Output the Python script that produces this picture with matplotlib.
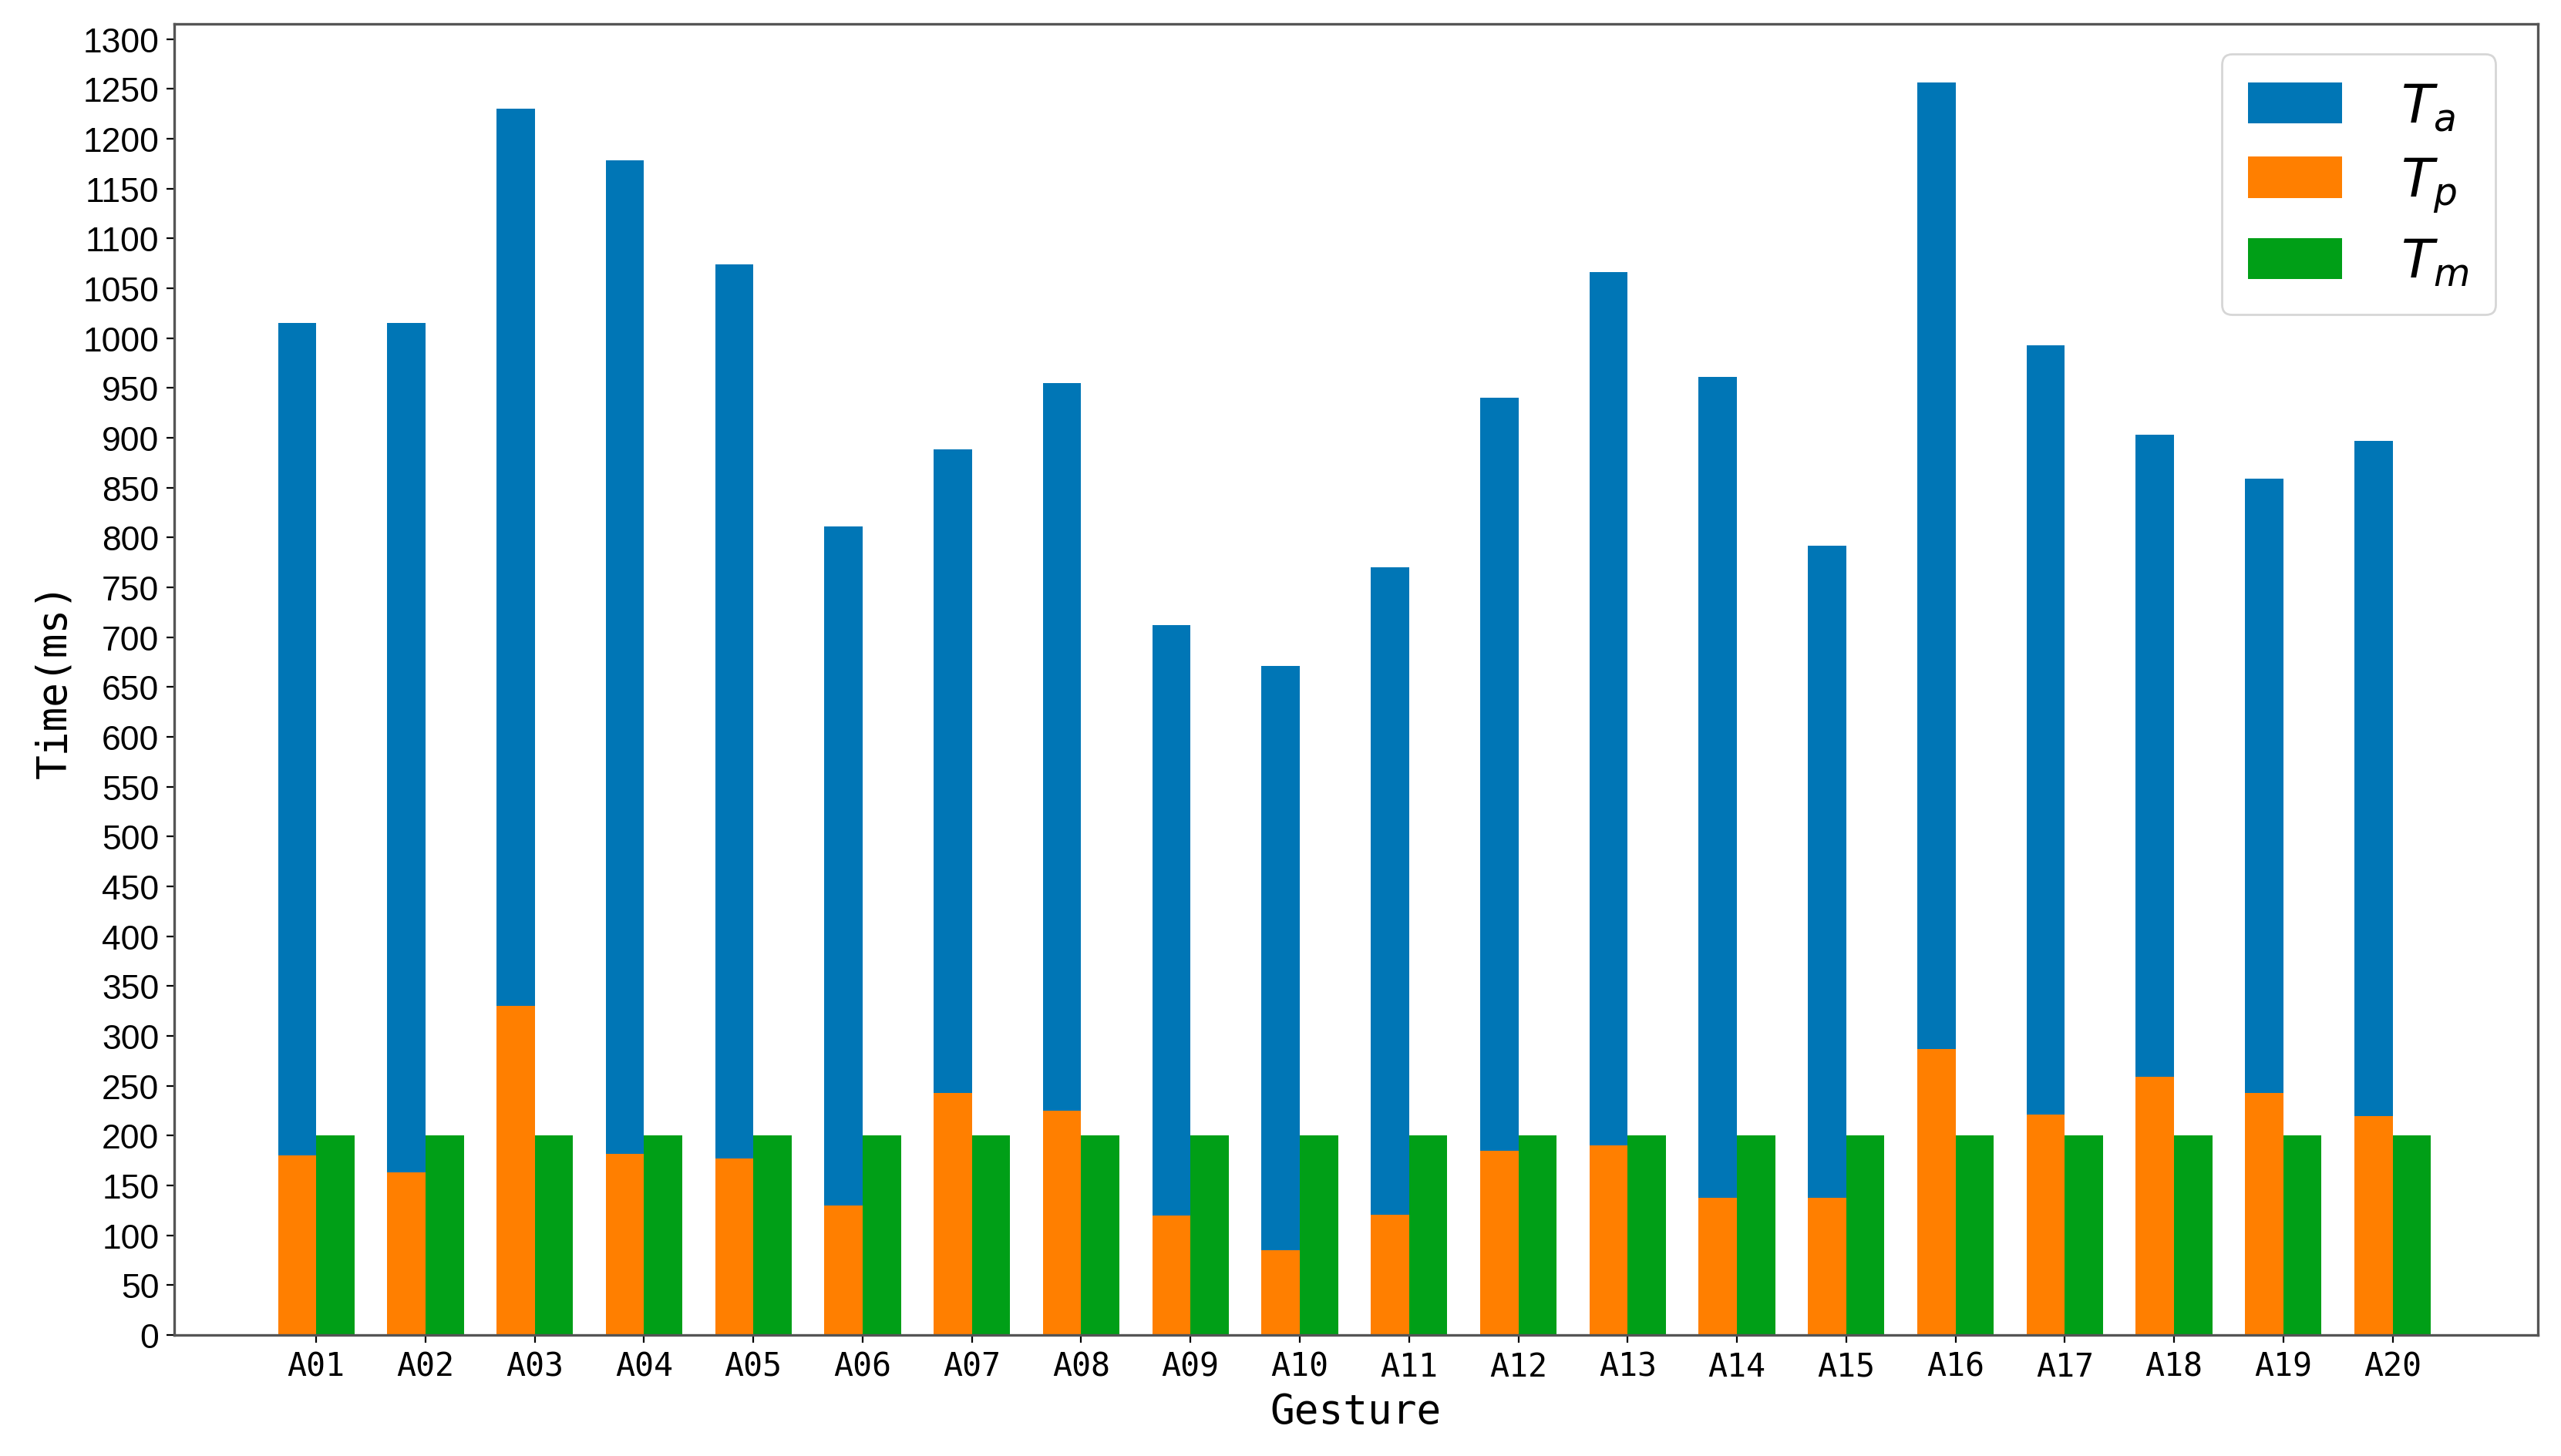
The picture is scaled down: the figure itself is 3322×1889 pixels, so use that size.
import numpy as np
import matplotlib.pyplot as plt

gestures = ['A%02d' % i for i in range(1, 21)]
t_a = [1015, 1015, 1230, 1178, 1074, 811, 888, 955, 712, 671,
       770, 940, 1066, 961, 792, 1256, 993, 903, 859, 897]
t_p = [180, 163, 330, 182, 177, 130, 243, 225, 120, 85,
       121, 185, 190, 138, 138, 287, 221, 259, 243, 220]
t_m = [200] * 20

x = np.arange(len(gestures))
w = 0.35

fig = plt.figure(figsize=(16.61, 9.45), dpi=200)
ax = fig.add_axes([0.068, 0.083, 0.923, 0.9])

ax.bar(x - w / 2, t_a, w, color='#0076b6', label='$T_a$')
ax.bar(x - w / 2, t_p, w, color='#ff7f00', label='$T_p$')
ax.bar(x + w / 2, t_m, w, color='#009f17', label='$T_m$')

ax.set_xlim(-1.3, 20.33)
ax.set_ylim(0, 1315)
ax.set_yticks(np.arange(0, 1301, 50))
ax.set_xticks(x)
ax.set_xticklabels(gestures, family='DejaVu Sans Mono', fontsize=15)
ax.tick_params(axis='y', labelsize=16)
for lab in ax.get_yticklabels():
    lab.set_family('Liberation Sans')

ax.set_xlabel('Gesture', family='DejaVu Sans Mono', fontsize=19, labelpad=4)
ax.set_ylabel('Time(ms)', family='DejaVu Sans Mono', fontsize=19, labelpad=4)

for s in ax.spines.values():
    s.set_color('#555555')
    s.set_linewidth(1.2)

ax.legend(loc='upper right', fontsize=25, handlelength=1.75, handleheight=0.8,
          labelspacing=0.42, borderpad=0.5, handletextpad=1.1,
          bbox_to_anchor=(0.9935, 0.9975))

fig.savefig('out.png', dpi=200)
